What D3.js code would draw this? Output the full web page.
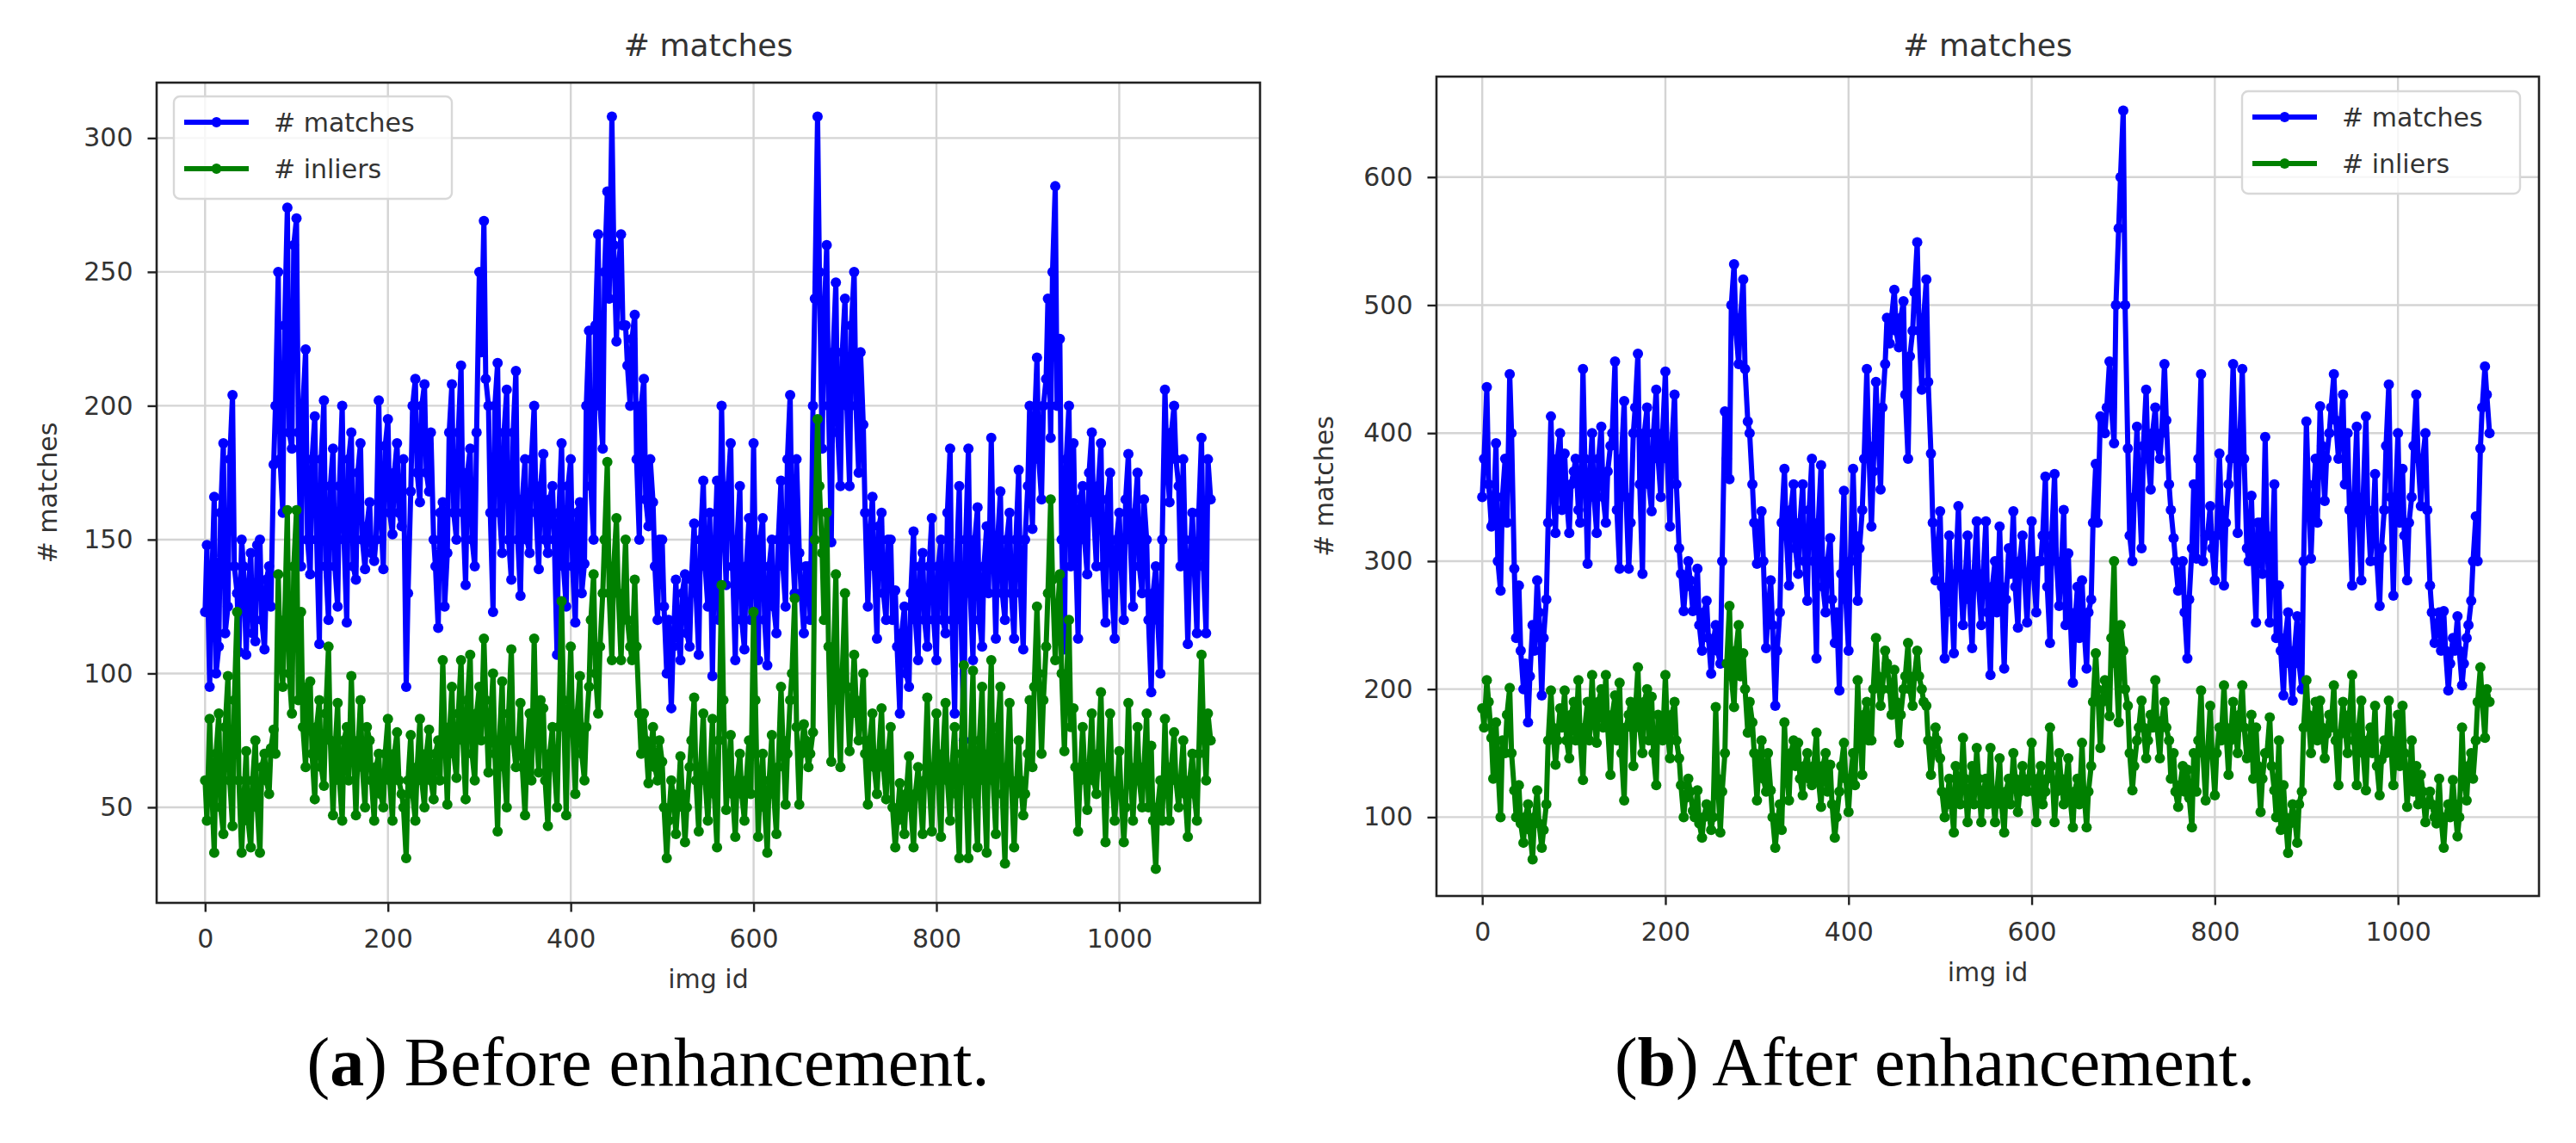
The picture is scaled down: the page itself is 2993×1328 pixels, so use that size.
<!DOCTYPE html>
<meta charset="utf-8">
<style>

body {
  margin: 0;
  background: #fff;
}

.grid line {
  stroke: #d4d4d4;
  stroke-width: 2.4px;
}

.axis text {
  font-family: "DejaVu Sans", sans-serif;
  font-size: 30px;
  fill: #333;
}

.axis line {
  stroke: #222;
  stroke-width: 2.4px;
}

.label {
  font-family: "DejaVu Sans", sans-serif;
  fill: #333;
}

.caption {
  font-family: "Liberation Serif", "Times New Roman", serif;
  font-size: 80px;
  fill: #000;
}

</style>
<svg width="2993" height="1328"></svg>

<script src="https://d3js.org/d3.v7.min.js"></script>
<script>
/* global d3 */

// values read every 5 img ids (0, 5, ... 1100) and in between (2, 7, ... 1097)
var imgIds = d3.range(0, 1101, 5);
var midIds = d3.range(2, 1100, 5);

// (a) before enhancement
var matchesBefore = [
  123,95,166,110,186,125,204,130,150,107,145,112,150,109,140,178,250,160,274,184,
  270,140,221,137,196,111,202,120,184,125,200,119,190,135,186,139,164,142,202,139,
  195,152,186,155,95,168,210,164,208,168,150,117,164,145,208,150,215,133,184,140,
  250,269,200,123,216,145,206,135,213,129,180,145,200,139,182,145,170,107,186,125,
  180,119,164,141,228,150,264,184,280,308,224,264,230,200,234,150,210,155,164,120,
  150,100,87,135,105,137,110,156,107,172,125,99,172,200,133,186,105,170,109,158,
  186,105,158,103,150,115,172,125,204,130,145,115,140,200,308,184,260,149,246,170,
  240,170,250,175,193,125,166,113,160,120,150,131,85,125,95,153,105,145,110,158,
  105,150,115,184,85,170,75,184,105,162,110,155,188,113,168,120,160,113,176,109,
  170,154,218,165,210,188,282,225,109,200,186,113,170,137,190,140,186,119,175,113,
  160,120,182,125,175,130,150,93,140,100,206,164,200,170,180,111,160,115,188,115,
  165
];
var matchesBeforeMid = [
  148,130,100,160,115,180,140,108,140,130,115,148,120,135,125,200,180,230,190,260,
  190,200,150,180,150,180,140,170,140,170,150,180,140,175,150,155,145,150,160,185,
  160,175,160,180,130,200,175,200,175,190,140,160,125,190,160,190,160,175,150,190,
  220,210,160,200,160,190,150,190,150,165,150,180,160,170,150,165,150,160,140,170,
  140,160,130,200,170,230,200,250,240,260,250,230,215,225,180,200,165,180,140,150,
  125,120,110,115,130,115,135,130,150,140,160,140,120,160,170,140,150,120,140,120,
  140,150,120,140,125,150,140,180,150,180,130,140,120,240,250,230,200,220,190,220,
  200,230,200,220,160,150,140,155,130,150,120,110,115,100,130,120,140,120,140,120,
  140,120,160,120,140,120,150,130,150,120,140,130,150,150,130,150,130,150,130,150,
  200,190,180,200,240,250,200,150,180,140,150,165,150,175,160,170,140,165,130,150,
  140,165,150,160,140,165,120,130,120,150,180,190,180,140,150,140,140,160,140,180
];
var inliersBefore = [
  60,83,33,85,40,99,43,123,33,71,35,75,33,70,55,79,137,95,161,85,
  161,123,65,97,53,90,58,110,47,89,45,80,99,47,90,50,75,45,70,50,
  83,45,78,55,31,77,45,83,50,79,53,75,105,51,95,61,105,53,107,60,
  95,113,63,100,41,97,50,109,65,89,47,85,113,63,87,43,80,50,127,47,
  110,55,99,60,95,137,85,130,179,105,158,105,150,110,135,85,85,59,80,60,
  67,31,60,40,69,37,65,91,41,85,45,83,35,133,49,77,39,70,45,75,
  123,39,70,33,77,40,95,51,90,128,51,81,65,78,195,145,160,67,137,65,
  130,71,107,75,100,51,85,55,87,53,80,35,59,40,69,35,65,40,91,41,
  85,39,89,45,80,31,103,31,101,35,95,33,105,40,95,29,89,35,75,47,
  70,65,125,70,110,165,105,137,71,120,87,41,80,49,85,55,93,37,85,45,
  71,37,89,45,80,50,85,73,27,60,83,45,78,50,75,39,70,45,107,60,
  75
];
var inliersBeforeMid = [
  45,60,70,50,80,60,90,60,50,45,60,50,65,60,72,70,110,120,100,140,
  90,80,95,70,80,65,85,75,70,60,75,60,75,70,65,80,60,65,55,70,
  60,70,60,50,60,55,65,60,70,60,70,60,80,75,70,85,75,90,70,85,
  75,90,80,70,75,65,85,75,70,65,70,60,80,90,60,70,65,80,90,80,
  80,85,70,80,120,100,110,150,130,140,130,125,120,105,110,70,75,70,65,75,
  50,45,55,50,55,50,75,60,65,60,60,55,75,90,60,55,60,55,60,55,
  90,55,50,60,55,65,75,70,100,80,70,75,70,150,170,120,110,100,90,100,
  95,85,90,85,70,75,65,70,65,70,50,45,50,55,50,55,55,60,60,65,
  60,70,60,65,55,70,60,70,55,75,60,70,60,80,55,65,60,55,60,55,
  90,95,100,90,130,135,120,100,95,80,65,60,65,65,60,70,65,60,60,55,
  55,50,65,60,60,65,50,45,50,45,60,65,60,60,55,60,55,70,80,85
];

// (b) after enhancement
var matchesAfter = [
  350,436,327,392,277,380,446,294,281,200,174,250,285,195,270,413,322,400,384,322,
  370,340,450,298,400,322,405,330,390,456,294,425,294,400,462,290,420,339,434,350,
  448,327,430,310,261,300,261,294,230,269,212,250,220,417,364,532,454,520,409,360,
  298,339,232,285,187,260,372,281,360,290,360,269,380,224,375,260,318,236,199,355,
  230,372,269,340,450,327,440,356,454,470,512,467,503,380,480,549,434,520,384,285,
  339,224,320,228,343,250,320,232,331,250,331,211,300,327,216,310,339,248,320,252,
  331,260,300,366,236,368,265,340,306,205,280,285,216,270,376,413,400,456,392,560,
  652,388,300,405,310,434,356,420,380,454,360,318,277,300,224,310,302,446,320,343,
  285,384,281,360,454,322,450,310,351,252,330,397,252,360,281,195,260,191,257,200,
  409,302,380,421,347,400,446,380,430,400,281,405,285,413,300,368,265,340,438,273,
  400,372,285,350,430,343,400,281,236,260,261,199,240,257,203,240,269,335,388,452,
  400
];
var matchesAfterMid = [
  380,360,330,300,350,330,400,240,230,220,210,230,260,240,330,360,380,340,350,360,
  380,330,380,360,350,380,350,370,400,340,380,350,330,420,360,400,360,400,380,400,
  380,390,360,290,280,285,270,250,260,240,235,230,300,380,500,480,490,450,400,330,
  320,300,260,250,230,330,320,340,310,330,300,340,300,330,280,300,270,260,290,270,
  300,320,310,380,390,370,400,420,490,490,480,490,430,460,510,480,490,440,330,300,
  280,260,280,290,290,280,270,290,280,290,260,280,260,280,270,290,280,300,290,290,
  290,300,320,280,320,300,290,250,260,250,240,250,260,330,330,410,420,420,500,600,
  500,320,350,360,390,380,400,390,400,410,340,300,290,260,270,360,380,300,320,310,
  320,340,330,380,400,390,380,300,300,330,290,320,300,240,230,240,220,230,220,300,
  360,340,330,390,380,420,410,400,360,340,350,330,350,340,320,300,310,390,350,340,
  330,320,330,390,380,380,340,260,250,230,230,220,230,230,220,250,300,300,420,430
];
var inliersAfter = [
  185,207,162,174,100,150,201,121,125,80,110,67,121,76,110,199,141,185,199,146,
  190,207,129,190,211,158,200,211,133,195,205,113,180,140,217,150,200,194,125,170,
  211,146,190,146,100,130,105,121,84,110,90,186,88,150,265,186,250,228,166,174,
  113,160,120,121,76,110,174,113,160,158,117,150,125,166,108,150,141,84,120,158,
  104,150,207,133,190,160,240,187,230,200,215,158,200,236,187,230,200,187,133,170,
  146,100,130,88,120,162,96,140,154,96,130,154,96,146,88,130,150,104,140,120,
  158,96,140,120,170,96,150,110,146,92,130,158,92,140,228,154,207,179,300,174,
  230,187,121,160,191,146,180,207,146,190,160,150,108,140,137,92,120,199,113,187,
  117,170,203,133,190,150,203,146,180,170,104,150,178,121,160,125,72,110,80,120,
  207,150,190,191,146,180,203,125,190,150,211,125,191,121,170,187,117,160,191,125,
  180,187,108,160,140,133,96,120,100,130,76,110,129,85,170,113,150,160,217,162,
  190
];
var inliersAfterMid = [
  170,190,130,140,160,180,150,100,95,100,90,100,95,90,160,170,160,170,160,180,
  160,160,170,160,175,190,170,170,180,160,150,170,190,180,170,190,160,150,180,160,
  170,180,160,125,115,120,100,95,100,105,100,130,120,220,210,230,210,200,190,150,
  140,130,150,100,95,90,140,150,140,130,140,130,140,130,140,120,110,100,140,130,
  130,125,170,180,160,200,210,200,220,180,190,180,210,200,210,210,190,160,150,160,
  120,110,110,140,110,130,120,110,130,120,110,120,120,110,120,110,130,120,125,130,
  120,130,110,130,140,120,130,125,115,120,110,120,120,190,200,190,195,240,220,250,
  200,150,140,170,170,160,170,170,175,170,130,120,125,120,115,150,160,150,150,150,
  150,160,170,160,170,180,170,150,130,140,130,150,140,100,90,100,95,100,110,170,
  180,170,160,170,165,170,160,165,170,180,160,170,150,160,150,140,145,150,160,150,
  140,150,130,120,110,120,110,110,95,100,100,100,110,100,130,140,130,190,190,200
];

var xTicks = [0, 200, 400, 600, 800, 1000];
var yTicksBefore = [50, 100, 150, 200, 250, 300];
var yTicksAfter = [100, 200, 300, 400, 500, 600];
var seriesNames = ["# matches", "# inliers"];
var seriesColors = ["#0000ff", "#008000"];

var svg = d3.select("svg");

// put the two readings of one series back in img id order
function joinSeries(values, midValues) {
  var pts = [];
  values.forEach(function(v, i) {
    pts.push({id: imgIds[i], v: v});
    if (i < midValues.length) pts.push({id: midIds[i], v: midValues[i]});
  });
  return pts;
}

function drawPanel(cfg) {
  var x = d3.scaleLinear().domain(cfg.xDomain).range([cfg.left, cfg.right]);
  var y = d3.scaleLinear().domain(cfg.yDomain).range([cfg.bottom, cfg.top]);
  var g = svg.append("g");

  // grid lines under everything
  var grid = g.append("g").attr("class", "grid");
  grid.selectAll("line.gx").data(xTicks).enter().append("line")
      .attr("x1", function(d) { return x(d); })
      .attr("x2", function(d) { return x(d); })
      .attr("y1", cfg.top)
      .attr("y2", cfg.bottom);
  grid.selectAll("line.gy").data(cfg.yTicks).enter().append("line")
      .attr("x1", cfg.left)
      .attr("x2", cfg.right)
      .attr("y1", function(d) { return y(d); })
      .attr("y2", function(d) { return y(d); });

  // the two series, matches first so inliers sit on top
  var line = d3.line()
      .x(function(d) { return x(d.id); })
      .y(function(d) { return y(d.v); });

  cfg.series.forEach(function(pts, k) {
    var s = g.append("g");
    s.append("path")
        .datum(pts)
        .attr("d", line)
        .attr("fill", "none")
        .attr("stroke", seriesColors[k])
        .attr("stroke-width", 6)
        .attr("stroke-linejoin", "round");
    s.selectAll("circle").data(pts).enter().append("circle")
        .attr("cx", function(d) { return x(d.id); })
        .attr("cy", function(d) { return y(d.v); })
        .attr("r", 6)
        .attr("fill", seriesColors[k]);
  });

  // axes (frame drawn separately)
  var ax = g.append("g")
      .attr("class", "axis")
      .attr("transform", "translate(0," + cfg.bottom + ")")
      .call(d3.axisBottom(x).tickValues(xTicks).tickFormat(d3.format("d"))
        .tickSize(10.5).tickPadding(20));
  ax.select(".domain").remove();

  var ay = g.append("g")
      .attr("class", "axis")
      .attr("transform", "translate(" + cfg.left + ",0)")
      .call(d3.axisLeft(y).tickValues(cfg.yTicks).tickFormat(d3.format("d"))
        .tickSize(10.5).tickPadding(17));
  ay.select(".domain").remove();

  g.append("rect")
      .attr("x", cfg.left)
      .attr("y", cfg.top)
      .attr("width", cfg.right - cfg.left)
      .attr("height", cfg.bottom - cfg.top)
      .attr("fill", "none")
      .attr("stroke", "#222")
      .attr("stroke-width", 2.6);

  // title and axis labels
  var cx = (cfg.left + cfg.right) / 2;
  g.append("text")
      .attr("class", "label")
      .attr("x", cx)
      .attr("y", 52)
      .attr("dy", "0.35em")
      .attr("text-anchor", "middle")
      .style("font-size", "36px")
      .text("# matches");
  g.append("text")
      .attr("class", "label")
      .attr("x", cx)
      .attr("y", cfg.bottom + 88)
      .attr("dy", "0.35em")
      .attr("text-anchor", "middle")
      .style("font-size", "30px")
      .text("img id");
  g.append("text")
      .attr("class", "label")
      .attr("transform", "translate(" + cfg.ylabelX + "," + ((cfg.top + cfg.bottom) / 2) + ") rotate(-90)")
      .attr("dy", "0.35em")
      .attr("text-anchor", "middle")
      .style("font-size", "30px")
      .text("# matches");

  // legend
  var lg = g.append("g").attr("transform", "translate(" + cfg.legend[0] + "," + cfg.legend[1] + ")");
  lg.append("rect")
      .attr("width", 323)
      .attr("height", 119)
      .attr("rx", 7)
      .attr("fill", "#fff")
      .attr("fill-opacity", 0.8)
      .attr("stroke", "#d8d8d8")
      .attr("stroke-width", 2.4);
  seriesNames.forEach(function(name, k) {
    var ry = 30 + k * 54;
    lg.append("line")
        .attr("x1", 12).attr("x2", 87)
        .attr("y1", ry).attr("y2", ry)
        .attr("stroke", seriesColors[k])
        .attr("stroke-width", 6);
    lg.append("circle")
        .attr("cx", 49.5).attr("cy", ry).attr("r", 6)
        .attr("fill", seriesColors[k]);
    lg.append("text")
        .attr("class", "label")
        .attr("x", 116)
        .attr("y", ry)
        .attr("dy", "0.35em")
        .style("font-size", "30px")
        .text(name);
  });

  // sub-figure caption
  var cap = svg.append("text")
      .attr("class", "caption")
      .attr("x", cfg.captionX)
      .attr("y", 1261)
      .attr("text-anchor", "middle");
  cap.append("tspan").text("(");
  cap.append("tspan").attr("font-weight", "bold").text(cfg.letter);
  cap.append("tspan").text(") " + cfg.caption);
}

drawPanel({
  left: 182, right: 1464, top: 96, bottom: 1049,
  xDomain: [-53, 1154], yDomain: [14.3, 320.7],
  yTicks: yTicksBefore,
  series: [joinSeries(matchesBefore, matchesBeforeMid), joinSeries(inliersBefore, inliersBeforeMid)],
  ylabelX: 55,
  legend: [202, 112],
  captionX: 753, letter: "a", caption: "Before enhancement."
});

drawPanel({
  left: 1669, right: 2950, top: 89, bottom: 1041,
  xDomain: [-50, 1154], yDomain: [38.4, 678.5],
  yTicks: yTicksAfter,
  series: [joinSeries(matchesAfter, matchesAfterMid), joinSeries(inliersAfter, inliersAfterMid)],
  ylabelX: 1538,
  legend: [2605, 106],
  captionX: 2248, letter: "b", caption: "After enhancement."
});

</script>
